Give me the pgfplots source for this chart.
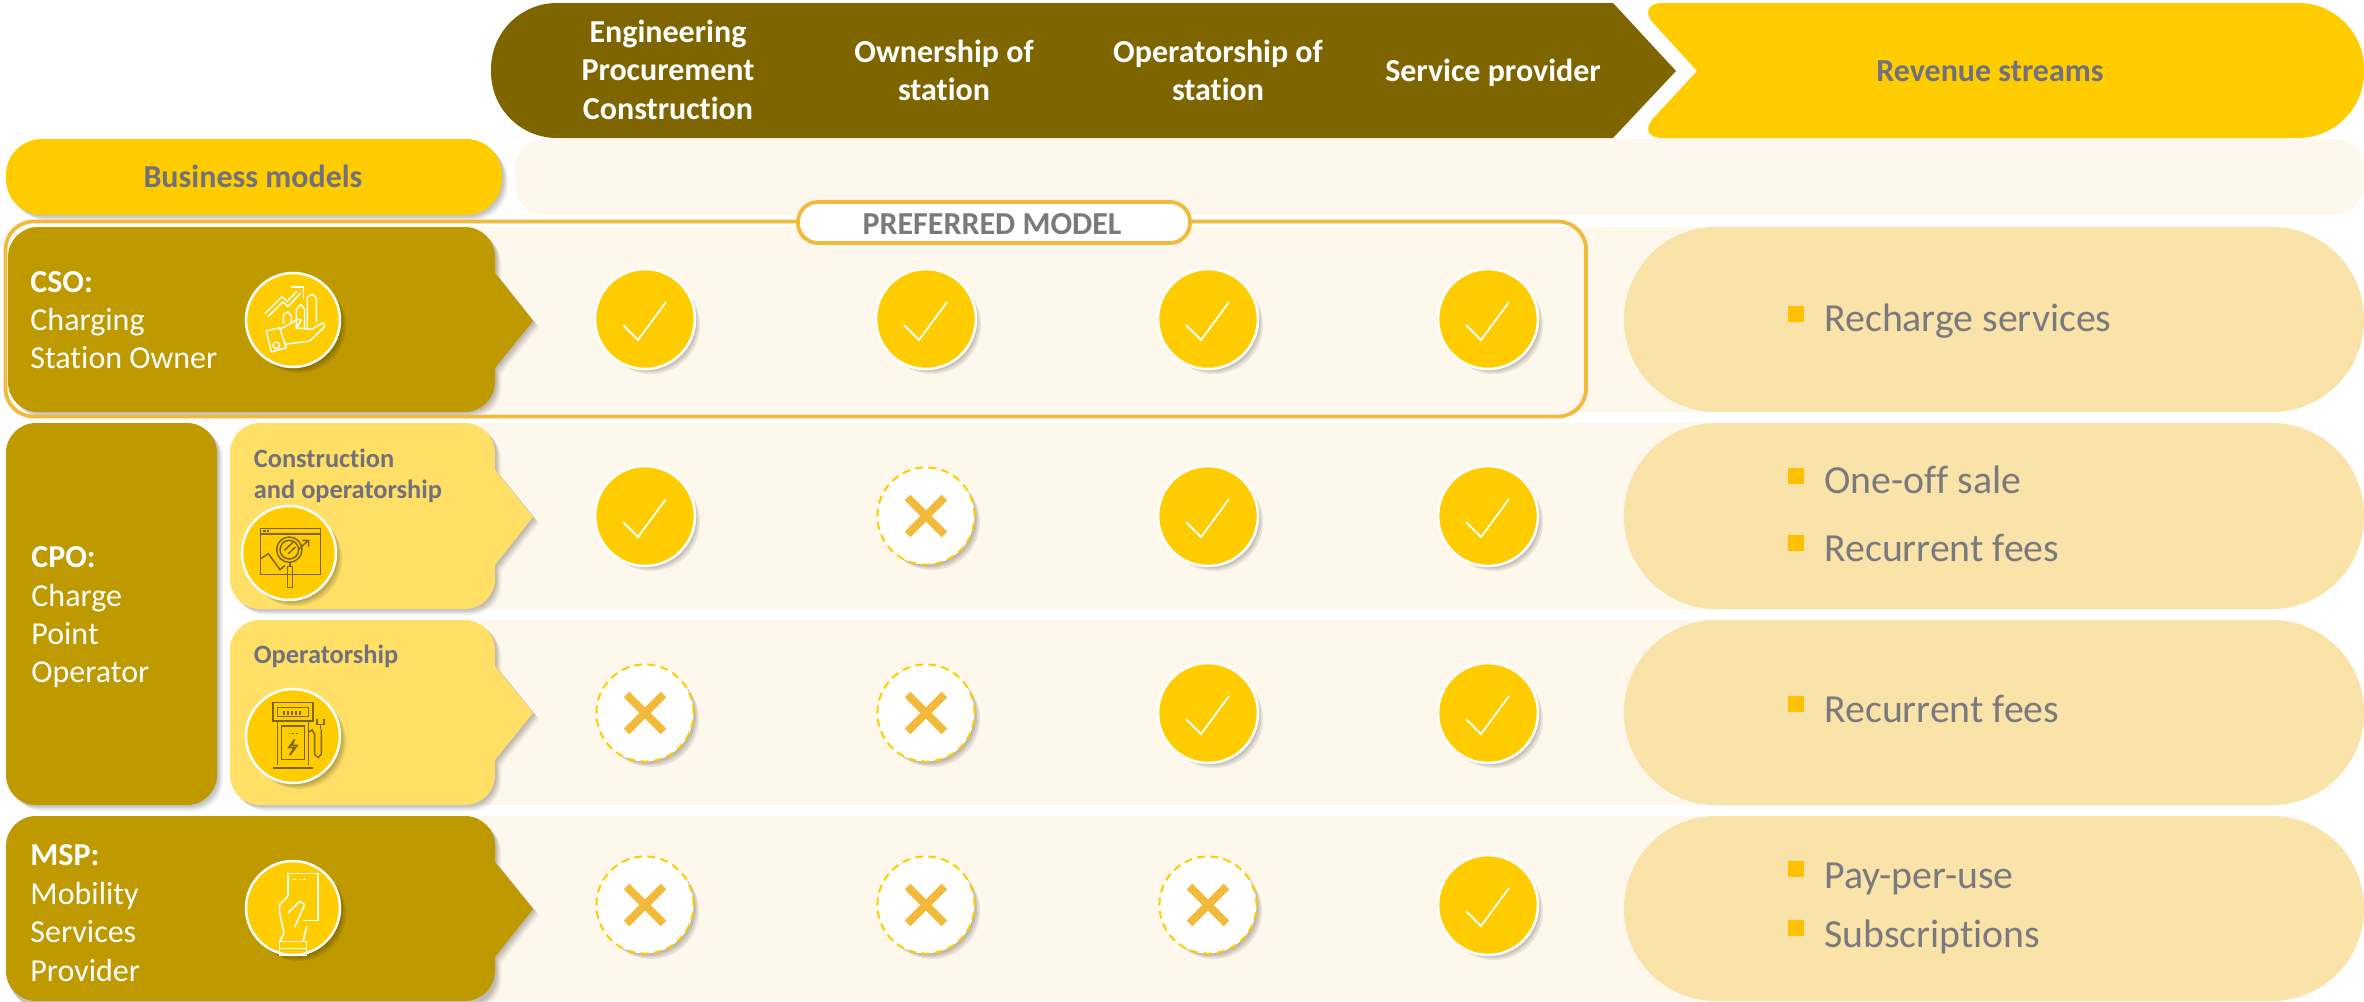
\documentclass[border=0pt]{standalone}
\usepackage{fontspec}
\setmainfont{Carlito}[Ligatures=NoCommon]
\usepackage{pgfplots}
\pgfplotsset{compat=1.18}
\definecolor{hdr}{HTML}{7F6500}
\definecolor{gold}{HTML}{BF9900}
\definecolor{yel}{HTML}{FFCC00}
\definecolor{lyel}{HTML}{FFDF66}
\definecolor{cream}{HTML}{FEF7EC}
\definecolor{pillc}{HTML}{F9E3A9}
\definecolor{frm}{HTML}{F2B93B}
\definecolor{gtb}{HTML}{71717D}
\definecolor{gtr}{HTML}{7A7A7E}
\definecolor{bul}{HTML}{FFC000}
\newcommand{\fB}{\fontsize{16}{19}\selectfont\bfseries}
\newcommand{\fR}{\fontsize{16}{19}\selectfont}
\newcommand{\fS}{\fontsize{13.2}{16}\selectfont\bfseries}
\newcommand{\fL}{\fontsize{19.9}{24}\selectfont}
% soft shadow of a closed path
\newcommand{\shad}[2][0pt]{%
  \fill[black,opacity=.07,rounded corners=#1,transform canvas={shift={(.8pt,-.8pt)}}] #2;
  \fill[black,opacity=.07,rounded corners=#1,transform canvas={shift={(1.5pt,-1.5pt)}}] #2;
  \fill[black,opacity=.07,rounded corners=#1,transform canvas={shift={(2.2pt,-2.2pt)}}] #2;
  \fill[black,opacity=.05,rounded corners=#1,transform canvas={shift={(3pt,-3pt)}}] #2;
}
% helpers for marks: units are 1/6 pt, origin \cx,\cy, y downward
\makeatletter
\newcommand{\PT}[2]{\pgfpoint{(#1-\cx)*0.16667pt}{(\cy-#2)*0.16667pt}}
\newcommand{\MV}[2]{\pgfpathmoveto{\PT{#1}{#2}}}
\newcommand{\LN}[2]{\pgfpathlineto{\PT{#1}{#2}}}
\def\PLn(#1,#2){\LN{#1}{#2}\@ifnextchar(\PLn{}}
\newcommand{\RC}[4]{\MV{#1}{#2}\LN{#3}{#2}\LN{#3}{#4}\LN{#1}{#4}\pgfpathclose}
\newcommand{\CR}[3]{\pgfpathcircle{\PT{#1}{#2}}{#3*0.16667pt}}
\newcommand{\ST}{\pgfusepath{stroke}}
\newcommand{\FL}{\pgfusepath{fill}}
\makeatother
\newcommand{\softc}[1]{%
  \pgfscope\pgfsetfillcolor{black}\pgfsetfillopacity{.08}%
  \pgfpathcircle{\pgfpoint{.8pt}{-.8pt}}{#1}\pgfusepath{fill}%
  \pgfpathcircle{\pgfpoint{1.5pt}{-1.5pt}}{#1}\pgfusepath{fill}%
  \pgfpathcircle{\pgfpoint{2.2pt}{-2.2pt}}{#1}\pgfusepath{fill}%
  \pgfpathcircle{\pgfpoint{3pt}{-3pt}}{#1}\pgfusepath{fill}\endpgfscope}
\pgfdeclareplotmark{okmark}{%
  \softc{24.5pt}%
  \pgfsetfillcolor{yel}\pgfsetstrokecolor{white}\pgfsetlinewidth{1.3pt}%
  \pgfpathcircle{\pgfpointorigin}{25pt}\pgfusepath{fill,stroke}%
  \pgfsetlinewidth{.9pt}%
  \pgfpathmoveto{\pgfpoint{-11pt}{-3pt}}\pgfpathlineto{\pgfpoint{-3.5pt}{-10.5pt}}%
  \pgfpathlineto{\pgfpoint{10.5pt}{8.5pt}}\pgfusepath{stroke}}
\pgfdeclareplotmark{nomark}{%
  \softc{24pt}%
  \pgfsetfillcolor{white}\pgfsetstrokecolor{yel}\pgfsetlinewidth{1pt}%
  \pgfsetdash{{4pt}{2.6pt}}{0pt}%
  \pgfpathcircle{\pgfpointorigin}{24.3pt}\pgfusepath{fill,stroke}%
  \pgfsetdash{}{0pt}\pgfsetstrokecolor{frm}\pgfsetlinewidth{4pt}%
  \pgfpathmoveto{\pgfpoint{-9.2pt}{-9.2pt}}\pgfpathlineto{\pgfpoint{9.2pt}{9.2pt}}%
  \pgfpathmoveto{\pgfpoint{-9.2pt}{9.2pt}}\pgfpathlineto{\pgfpoint{9.2pt}{-9.2pt}}\pgfusepath{stroke}}
\pgfdeclareplotmark{iconA}{%
  \softc{23.5pt}\pgfsetfillcolor{yel}\pgfsetstrokecolor{white}\pgfsetlinewidth{1.25pt}%
  \pgfpathcircle{\pgfpointorigin}{23.5pt}\pgfusepath{fill,stroke}%
  \def\cx{175}\def\cy{172}\pgfsetlinewidth{.75pt}\pgfsetroundjoin\pgfsetroundcap
  \MV{92}{152}\PLn(142,102)(158,116)(186,86)\ST
  \MV{100}{162}\PLn(145,118)(160,132)(197,92)\ST
  \MV{170}{73}\PLn(206,73)(206,108)\ST
  \MV{185}{198}\PLn(185,140)(198,125)(210,140)(210,198)\ST
  \MV{218}{198}\PLn(218,102)(232,95)(245,105)(245,178)\ST
  \MV{146}{182}\PLn(146,155)(160,148)(170,160)(170,180)\ST
  \MV{95}{205}\PLn(135,195)(155,255)(110,268)(95,205)\ST
  \CR{125}{248}{10}\ST
  \MV{135}{200}\PLn(190,170)(200,172)(185,196)(230,200)(265,180)(270,192)(225,235)(150,245)\ST}
\pgfdeclareplotmark{iconB}{%
  \softc{23.5pt}\pgfsetfillcolor{yel}\pgfsetstrokecolor{white}\pgfsetlinewidth{1.25pt}%
  \pgfpathcircle{\pgfpointorigin}{23.5pt}\pgfusepath{fill,stroke}%
  \def\cx{177}\def\cy{188}\pgfsetstrokecolor{hdr}\pgfsetlinewidth{.75pt}%
  \RC{92}{115}{272}{252}\ST
  \MV{92}{131}\LN{272}{131}\ST
  \MV{100}{122}\LN{107}{122}\MV{111}{122}\LN{118}{122}\ST
  \MV{92}{205}\PLn(115,190)(150,238)(165,225)\ST
  \pgfsetfillcolor{yel}\CR{178}{178}{38}\pgfusepath{fill,stroke}
  \CR{178}{178}{28}\ST
  \MV{163}{180}\LN{190}{155}\MV{175}{190}\LN{196}{170}\ST
  \RC{172}{228}{188}{292}\ST \MV{180}{216}\LN{180}{228}\ST
  \MV{205}{178}\LN{235}{150}\MV{217}{150}\PLn(236,150)(236,169)\ST}
\pgfdeclareplotmark{iconC}{%
  \softc{23.5pt}\pgfsetfillcolor{yel}\pgfsetstrokecolor{white}\pgfsetlinewidth{1.25pt}%
  \pgfpathcircle{\pgfpointorigin}{23.5pt}\pgfusepath{fill,stroke}%
  \def\cx{175}\def\cy{170}\pgfsetstrokecolor{hdr}\pgfsetlinewidth{.75pt}%
  \RC{115}{70}{235}{125}\ST
  \RC{128}{85}{222}{112}\ST
  \pgfsetlinewidth{1.1pt}\MV{148}{94}\LN{148}{106}\MV{160}{94}\LN{160}{106}\MV{172}{94}\LN{172}{106}\MV{184}{94}\LN{184}{106}\MV{196}{94}\LN{196}{106}\ST
  \pgfsetlinewidth{.75pt}\MV{128}{125}\PLn(128,256)\ST\MV{222}{125}\LN{222}{256}\ST
  \RC{140}{140}{210}{240}\ST
  \MV{162}{162}\LN{167}{162}\MV{173}{162}\LN{178}{162}\MV{184}{162}\LN{189}{162}\ST
  \MV{180}{180}\PLn(162,205)(178,205)(165,228)(188,198)(172,198)(180,180)\ST
  \pgfsetlinewidth{1pt}\MV{115}{265}\LN{235}{265}\ST
  \pgfsetlinewidth{.75pt}\MV{222}{158}\PLn(232,152)(240,165)(240,225)(250,235)(260,225)(260,150)\ST
  \MV{247}{120}\PLn(247,135)(268,135)(268,120)\MV{258}{135}\LN{258}{150}\ST}
\pgfdeclareplotmark{iconD}{%
  \softc{23.5pt}\pgfsetfillcolor{yel}\pgfsetstrokecolor{white}\pgfsetlinewidth{1.25pt}%
  \pgfpathcircle{\pgfpointorigin}{23.5pt}\pgfusepath{fill,stroke}%
  \def\cx{175}\def\cy{175}\pgfsetlinewidth{.8pt}\pgfsetroundjoin
  \MV{160}{140}\PLn(160,72)(250,72)(250,212)(205,212)\ST
  \MV{176}{90}\LN{183}{90}\MV{192}{90}\LN{199}{90}\MV{206}{90}\LN{213}{90}\ST
  \MV{160}{140}\PLn(135,165)(135,190)(148,250)(135,276)\ST
  \MV{160}{190}\PLn(195,155)(210,165)(180,232)\ST
  \MV{216}{230}\LN{205}{276}\ST
  \RC{135}{276}{215}{318}\ST
  \MV{135}{296}\LN{215}{296}\ST}
\begin{document}
\begin{tikzpicture}
\path[use as bounding box] (0,0) rectangle (1182pt,500.5pt);
\begin{axis}[scale only axis,width=1182pt,height=500.5pt,at={(0,0)},anchor=south west,
  xmin=0,xmax=2364,ymin=0,ymax=1001,y dir=reverse,hide axis,clip=false]
% ---- background bands
\fill[cream,rounded corners=15pt] (515,139) rectangle (2364,215);
\fill[cream] (480,227) rectangle (1800,412);
\fill[cream] (480,423) rectangle (1800,609);
\fill[cream] (480,620) rectangle (1800,805);
\fill[cream] (480,816) rectangle (1800,1001);
% ---- revenue pills
\fill[pillc,rounded corners=46pt] (1624,227) rectangle (2364,412);
\fill[pillc,rounded corners=46pt] (1624,423) rectangle (2364,609);
\fill[pillc,rounded corners=46pt] (1624,620) rectangle (2364,805);
\fill[pillc,rounded corners=46pt] (1624,816) rectangle (2364,1001);
% ---- header chevrons
\fill[hdr,rounded corners=33pt] (1000,3) -- (491,3) -- (491,138) -- (1000,138) [sharp corners] -- (1613,138) -- (1676,71) -- (1613,3) -- cycle;
\fill[yel,rounded corners=33pt] (1800,3) -- (2364,3) -- (2364,138) -- (1800,138) [rounded corners=14pt] -- (1635,138) [sharp corners] -- (1697,71) [rounded corners=14pt] -- (1635,3) [sharp corners] -- cycle;
% ---- business-model header
\shad[18pt]{(6,139) rectangle (502,215)}
\fill[yel,rounded corners=18pt] (6,139) rectangle (502,215);
% ---- left blocks
\shad[15pt]{(8,227) rectangle (495,412)}
\shad{(495,273) -- (533,321) -- (495,368) -- cycle}
\fill[gold] (490,273) -- (495,273) -- (533,321) -- (495,368) -- (490,368) -- cycle;
\fill[gold,rounded corners=15pt] (8,227) rectangle (495,412);
\shad[15pt]{(6,423) rectangle (217,805)}
\fill[gold,rounded corners=15pt] (6,423) rectangle (217,805);
\shad[15pt]{(230,423) rectangle (495,609)}
\shad{(495,470) -- (533,517) -- (495,565) -- cycle}
\fill[lyel] (490,470) -- (495,470) -- (533,517) -- (495,565) -- (490,565) -- cycle;
\fill[lyel,rounded corners=15pt] (230,423) rectangle (495,609);
\shad[15pt]{(230,620) rectangle (495,805)}
\shad{(495,666) -- (533,713) -- (495,760) -- cycle}
\fill[lyel] (490,666) -- (495,666) -- (533,713) -- (495,760) -- (490,760) -- cycle;
\fill[lyel,rounded corners=15pt] (230,620) rectangle (495,805);
\shad[15pt]{(6,816) rectangle (495,1004)}
\shad{(495,862) -- (533,909) -- (495,957) -- cycle}
\fill[gold] (490,862) -- (495,862) -- (533,909) -- (495,957) -- (490,957) -- cycle;
\fill[gold,rounded corners=15pt] (6,816) rectangle (495,1001);
% ---- preferred model frame
\draw[frm,line width=1.9pt,rounded corners=14pt] (5.5,221.5) rectangle (1586,416.5);
\draw[frm,fill=white,line width=1.9pt,rounded corners=10pt] (798,202) rectangle (1190,243);
% ---- the check matrix
\addplot[only marks,mark=okmark] coordinates {
 (645,319) (926,319) (1208,319) (1488,319)
 (645,516) (1208,516) (1488,516)
 (1208,713) (1488,713)
 (1488,905)};
\addplot[only marks,mark=nomark] coordinates {
 (926,516)
 (645,713) (926,713)
 (645,905) (926,905) (1208,905)};
% ---- model icons
\addplot[only marks,mark=iconA] coordinates {(293,320)};
\addplot[only marks,mark=iconB] coordinates {(289,553)};
\addplot[only marks,mark=iconC] coordinates {(293,736)};
\addplot[only marks,mark=iconD] coordinates {(293,908)};
% ---- bullets
\addplot[only marks,mark=square*,mark size=3.75pt,bul,mark options={fill=bul,draw=bul}] coordinates {
 (1796,314) (1796,476) (1796,543) (1796,704) (1796,869) (1796,928)};
% ---- header text
\node[anchor=base,inner sep=0,white,font=\fB] at (axis cs:668,42) {Engineering};
\node[anchor=base,inner sep=0,white,font=\fB] at (axis cs:668,80.5) {Procurement};
\node[anchor=base,inner sep=0,white,font=\fB] at (axis cs:668,119) {Construction};
\node[anchor=base,inner sep=0,white,font=\fB] at (axis cs:944,62.7) {Ownership of};
\node[anchor=base,inner sep=0,white,font=\fB] at (axis cs:944,100) {station};
\node[anchor=base,inner sep=0,white,font=\fB] at (axis cs:1218,62.7) {Operatorship of};
\node[anchor=base,inner sep=0,white,font=\fB] at (axis cs:1218,100) {station};
\node[anchor=base,inner sep=0,white,font=\fB] at (axis cs:1493,81.7) {Service provider};
\node[anchor=base,inner sep=0,gtb,font=\fB] at (axis cs:1990,81.7) {Revenue streams};
\node[anchor=base,inner sep=0,gtb,font=\fB] at (axis cs:253,187.3) {Business models};
\node[anchor=base,inner sep=0,gtr,font=\fB] at (axis cs:992,234) {PREFERRED MODEL};
% ---- left labels
\node[anchor=base west,inner sep=0,white,font=\fB] at (axis cs:30,292) {CSO:};
\node[anchor=base west,inner sep=0,white,font=\fR] at (axis cs:30,330) {Charging};
\node[anchor=base west,inner sep=0,white,font=\fR] at (axis cs:30,368) {Station Owner};
\node[anchor=base west,inner sep=0,white,font=\fB] at (axis cs:31,567.5) {CPO:};
\node[anchor=base west,inner sep=0,white,font=\fR] at (axis cs:31,606) {Charge};
\node[anchor=base west,inner sep=0,white,font=\fR] at (axis cs:31,644.5) {Point};
\node[anchor=base west,inner sep=0,white,font=\fR] at (axis cs:31,682) {Operator};
\node[anchor=base west,inner sep=0,white,font=\fB] at (axis cs:30,865) {MSP:};
\node[anchor=base west,inner sep=0,white,font=\fR] at (axis cs:30,904.5) {Mobility};
\node[anchor=base west,inner sep=0,white,font=\fR] at (axis cs:30,942) {Services};
\node[anchor=base west,inner sep=0,white,font=\fR] at (axis cs:30,981) {Provider};
\node[anchor=base west,inner sep=0,gtb,font=\fS] at (axis cs:253.5,467) {Construction};
\node[anchor=base west,inner sep=0,gtb,font=\fS] at (axis cs:253.5,498.6) {and operatorship};
\node[anchor=base west,inner sep=0,gtb,font=\fS] at (axis cs:253.5,663.7) {Operatorship};
% ---- revenue text
\node[anchor=base west,inner sep=0,gtr,font=\fL] at (axis cs:1824,331) {Recharge services};
\node[anchor=base west,inner sep=0,gtr,font=\fL] at (axis cs:1824,493) {One-off sale};
\node[anchor=base west,inner sep=0,gtr,font=\fL] at (axis cs:1824,561) {Recurrent fees};
\node[anchor=base west,inner sep=0,gtr,font=\fL] at (axis cs:1824,722) {Recurrent fees};
\node[anchor=base west,inner sep=0,gtr,font=\fL] at (axis cs:1824,888) {Pay-per-use};
\node[anchor=base west,inner sep=0,gtr,font=\fL] at (axis cs:1824,947) {Subscriptions};
\end{axis}
\end{tikzpicture}
\end{document}
